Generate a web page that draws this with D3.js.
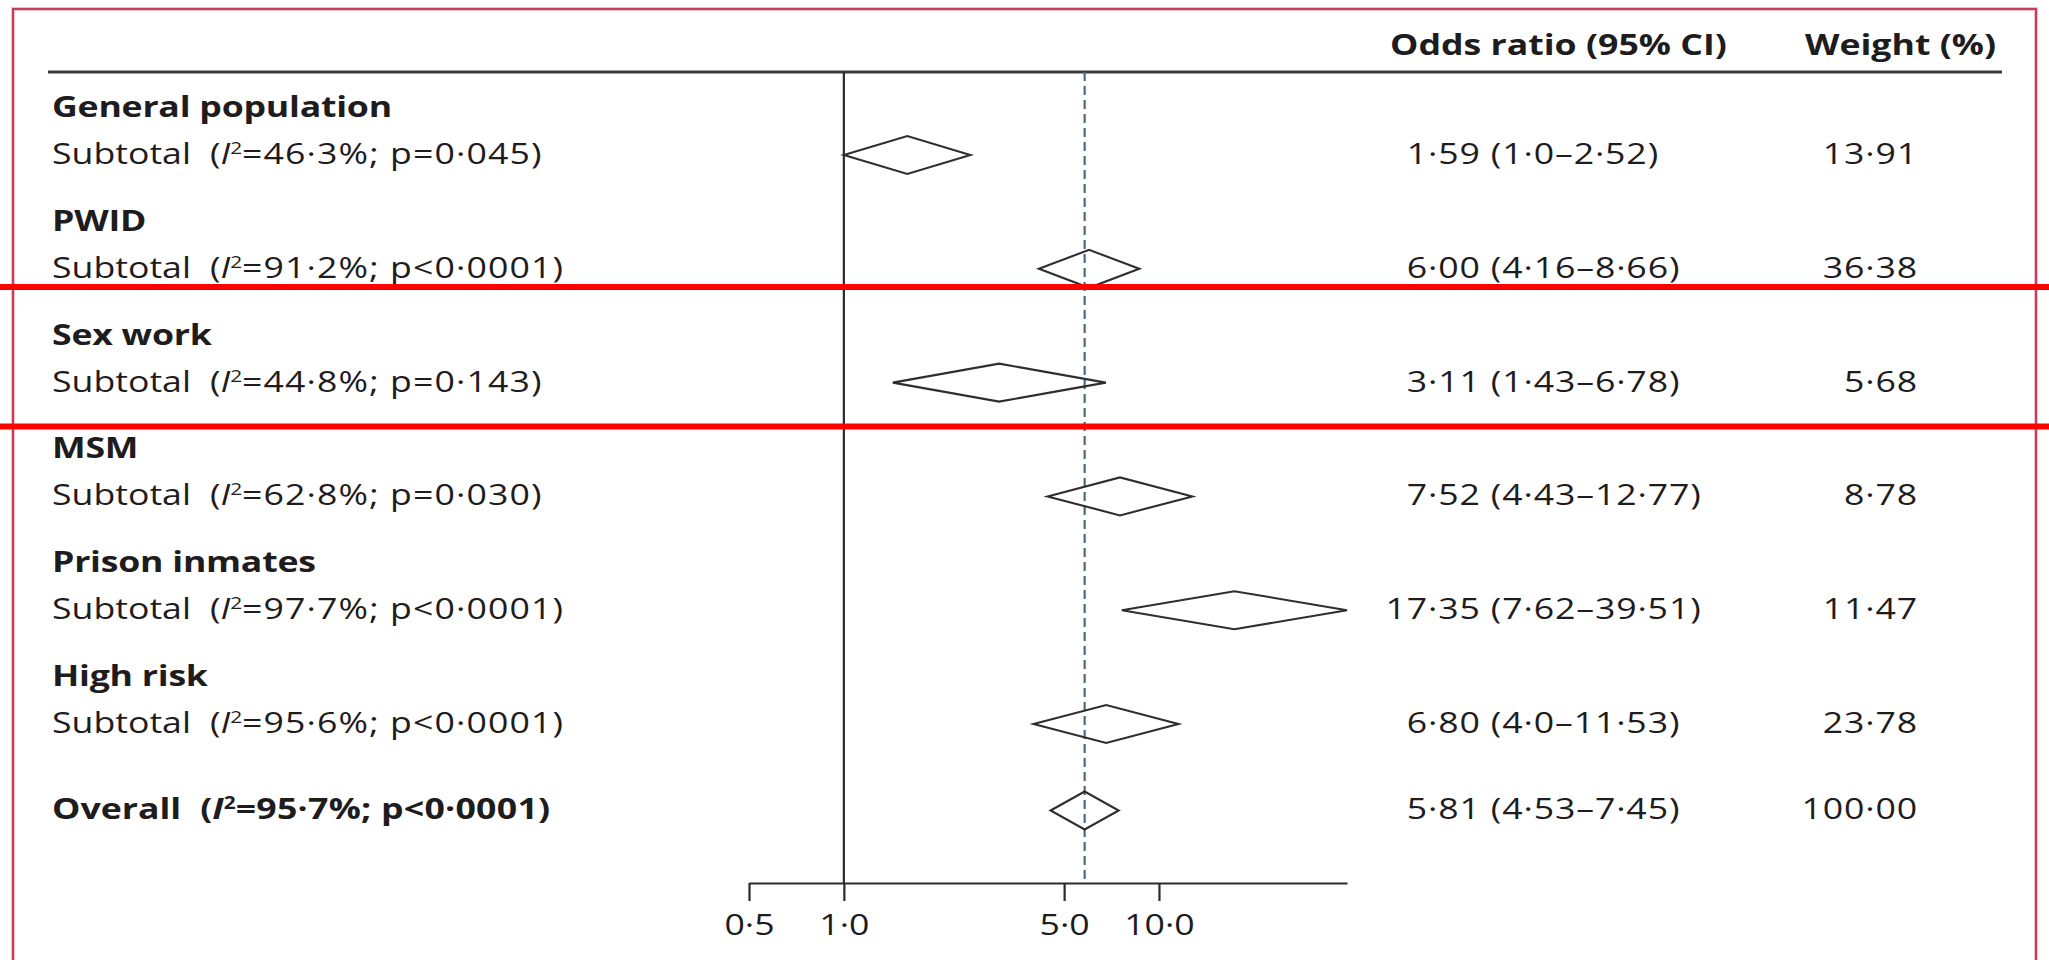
<!DOCTYPE html>
<html>
<head>
<meta charset="utf-8">
<script src="https://cdn.jsdelivr.net/npm/d3@7/dist/d3.min.js"></script>
<style>
  html, body { margin: 0; padding: 0; background: #ffffff; }
  svg { display: block; }
  text { font-family: "Open Sans", "Lato", sans-serif; fill: #1f1c1d; }
</style>
</head>
<body>
<script>
// Subgroup meta-analysis: pooled odds ratios by population group
const groups    = ["General population", "PWID", "Sex work", "MSM", "Prison inmates", "High risk"];
const i2        = ["46.3", "91.2", "44.8", "62.8", "97.7", "95.6"];
const pValues   = ["p=0.045", "p<0.0001", "p=0.143", "p=0.030", "p<0.0001", "p<0.0001"];
const oddsRatio = ["1.59", "6.00", "3.11", "7.52", "17.35", "6.80"];
const ciLow     = ["1.0", "4.16", "1.43", "4.43", "7.62", "4.0"];
const ciHigh    = ["2.52", "8.66", "6.78", "12.77", "39.51", "11.53"];
const weights   = ["13.91", "36.38", "5.68", "8.78", "11.47", "23.78"];

const overall = { label: "Overall", i2: "95.7", p: "p<0.0001", or: "5.81", lo: "4.53", hi: "7.45", weight: "100.00" };

const tickValues = [0.5, 1, 5, 10];
const tickLabels = ["0.5", "1.0", "5.0", "10.0"];
const headers = ["Odds ratio (95% CI)", "Weight (%)"];

// Lancet style: mid-dot as decimal separator
const dot = s => String(s).replace(/\./g, "\u00b7");

const W = 2049, H = 960;
const FS = 29;        // type size
const SX = 1.23;      // horizontal set width of the typeface
const NUM_TRACK = 0.7; // extra tracking for figures

const svg = d3.select("body").append("svg")
  .attr("width", W).attr("height", H)
  .attr("viewBox", `0 0 ${W} ${H}`);

svg.append("rect").attr("width", W).attr("height", H).attr("fill", "#ffffff");

// place a text element at (x, y) with the wide set width
const place = (sel, fx, fy) => sel
  .attr("x", 0).attr("y", 0)
  .attr("transform", (d, i) => `translate(${typeof fx === "function" ? fx(d, i) : fx},${typeof fy === "function" ? fy(d, i) : fy}) scale(${SX},1)`);

// outer frame (open at the bottom edge of the view)
svg.append("rect")
  .attr("x", 13).attr("y", 9).attr("width", 2023).attr("height", 1200)
  .attr("fill", "none").attr("stroke", "#f2c2cc").attr("stroke-width", 4);
svg.append("rect")
  .attr("x", 13).attr("y", 9).attr("width", 2023).attr("height", 1200)
  .attr("fill", "none").attr("stroke", "#c3304f").attr("stroke-width", 1.8);

const headY = 72, axisY = 883;

// log-scaled odds-ratio axis
const x = d3.scaleLog().domain([0.5, d3.max(ciHigh, d => +d)]).range([749, 1347]);

// subtotal baselines by group slot; the overall row sits a little closer
const yRow = d3.scaleLinear().domain([0, 5]).range([164, 733]);
const overallSlot = 5.76;
const headerOffset = -47;
const diamondOffset = -9;
const diamondHalf = 19;

// header rule
svg.append("line")
  .attr("x1", 48).attr("x2", 2002).attr("y1", headY).attr("y2", headY)
  .attr("stroke", "#3a3a3a").attr("stroke-width", 3);

// column headers
place(svg.append("text"), 1390, 55)
  .attr("font-size", FS).attr("font-weight", 700).text(headers[0]);
place(svg.append("text"), 1996, 55).attr("text-anchor", "end")
  .attr("font-size", FS).attr("font-weight", 700).text(headers[1]);

// line of no effect
svg.append("line")
  .attr("x1", x(1)).attr("x2", x(1)).attr("y1", headY).attr("y2", axisY)
  .attr("stroke", "#2b2b2b").attr("stroke-width", 2.2);

// overall estimate reference line
svg.append("line")
  .attr("x1", x(+overall.or)).attr("x2", x(+overall.or)).attr("y1", headY).attr("y2", axisY)
  .attr("stroke", "#4d6b7c").attr("stroke-width", 2.2).attr("stroke-dasharray", "9,5");

// x axis
const axis = d3.axisBottom(x)
  .tickValues(tickValues)
  .tickSize(18)
  .tickSizeOuter(0)
  .tickFormat((d, i) => dot(tickLabels[i]));
const gAxis = svg.append("g").attr("transform", `translate(0,${axisY})`).call(axis);
gAxis.attr("font-family", null).attr("font-size", null);
gAxis.select(".domain").attr("stroke", "#2b2b2b").attr("stroke-width", 2.2);
gAxis.selectAll(".tick line").attr("stroke", "#2b2b2b").attr("stroke-width", 2.2);
place(gAxis.selectAll(".tick text"), 0, 52)
  .attr("dy", 0)
  .attr("font-size", FS).attr("fill", "#1f1c1d");

// rows
const rows = groups.map((g, i) => ({
  name: g, slot: i, i2: i2[i], p: pValues[i],
  or: oddsRatio[i], lo: ciLow[i], hi: ciHigh[i], weight: weights[i], bold: false
}));
const allRows = rows.concat([{
  name: null, label: overall.label, slot: overallSlot, i2: overall.i2, p: overall.p,
  or: overall.or, lo: overall.lo, hi: overall.hi, weight: overall.weight, bold: true
}]);

const labelX = 52;

// group headings
place(svg.selectAll("text.group").data(rows).join("text").attr("class", "group"),
      labelX, d => yRow(d.slot) + headerOffset)
  .attr("font-size", FS).attr("font-weight", 700)
  .attr("letter-spacing", -0.2)
  .text(d => d.name);

// subtotal / overall labels with heterogeneity statistics
const sub = place(svg.selectAll("text.sub").data(allRows).join("text").attr("class", "sub"),
      labelX, d => yRow(d.slot))
  .attr("font-size", FS).attr("font-weight", d => d.bold ? 700 : 400);
sub.append("tspan").text(d => d.bold ? d.label : "Subtotal");
sub.append("tspan").attr("dx", 19 / SX).text("(");
sub.append("tspan").attr("font-style", "italic").text("I");
sub.append("tspan").attr("font-size", 17).attr("dy", -10).text("2");
sub.append("tspan").attr("dy", 10)
  .attr("letter-spacing", d => d.bold ? 0.2 : 0.9)
  .text(d => "=" + dot(d.i2) + "%; " + dot(d.p) + ")");

// diamonds
const diamond = d => {
  const cy = yRow(d.slot) + diamondOffset;
  return `M${x(+d.lo)},${cy}L${x(+d.or)},${cy - diamondHalf}L${x(+d.hi)},${cy}L${x(+d.or)},${cy + diamondHalf}Z`;
};
svg.selectAll("path.diamond").data(allRows).join("path")
  .attr("class", "diamond")
  .attr("d", diamond)
  .attr("fill", "none").attr("stroke", "#2e2e2e").attr("stroke-width", 2.1)
  .attr("stroke-linejoin", "miter");

// odds ratio column, aligned on the decimal point
const dotX = 1428;
const probe = svg.append("text").attr("font-size", FS).attr("letter-spacing", NUM_TRACK)
  .attr("visibility", "hidden");
const intWidth = s => { probe.text(s.split(".")[0]); return probe.node().getComputedTextLength() * SX; };
place(svg.selectAll("text.or").data(allRows).join("text").attr("class", "or"),
      d => dotX - intWidth(d.or), d => yRow(d.slot))
  .attr("font-size", FS)
  .attr("letter-spacing", NUM_TRACK)
  .text(d => `${dot(d.or)} (${dot(d.lo)}\u2013${dot(d.hi)})`);
probe.remove();

// weight column
place(svg.selectAll("text.wt").data(allRows).join("text").attr("class", "wt"),
      1918, d => yRow(d.slot))
  .attr("text-anchor", "end")
  .attr("font-size", FS)
  .attr("letter-spacing", NUM_TRACK)
  .text(d => dot(d.weight));

// highlight rules around the sex work row
const highlight = [287, 426.5];
svg.selectAll("line.hl").data(highlight).join("line")
  .attr("class", "hl")
  .attr("x1", 0).attr("x2", W).attr("y1", d => d).attr("y2", d => d)
  .attr("stroke", "#ff0000").attr("stroke-width", 6);
</script>
</body>
</html>
